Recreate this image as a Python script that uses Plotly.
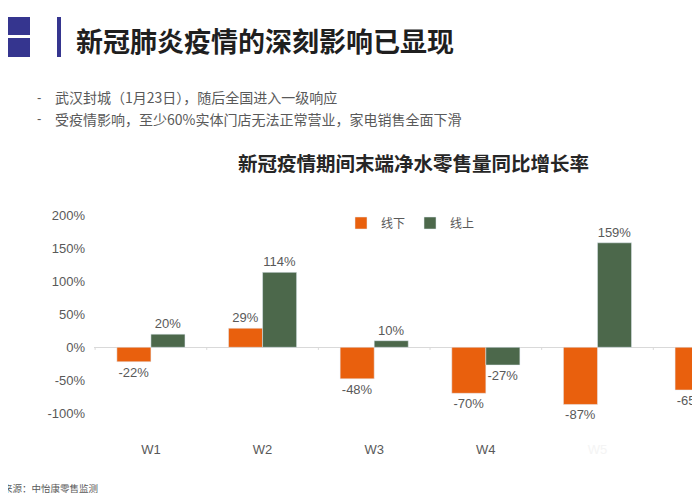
import plotly.graph_objects as go

# ---- data ----
weeks = ["W1", "W2", "W3", "W4", "W5", "W6"]
offline = [-22, 29, -48, -70, -87, -65]   # 线下
online = [20, 114, 10, -27, 159, None]    # 线上
y_ticks = [-100, -50, 0, 50, 100, 150, 200]
y_ticktext = [f"{v}%" for v in y_ticks]
series_names = ["线下", "线上"]
chart_title = "新冠疫情期间末端净水零售量同比增长率"
slide_title = "新冠肺炎疫情的深刻影响已显现"
bullets = ["武汉封城（1月23日），随后全国进入一级响应",
           "受疫情影响，至少60%实体门店无法正常营业，家电销售全面下滑"]
source = "数据来源：中怡康零售监测"

ORANGE = "#E9600D"
GREEN = "#4C684B"
GRAY = "#595959"
FONT = "Liberation Sans, Noto Sans CJK SC, sans-serif"
CJK = "Noto Sans CJK SC, sans-serif"

# the page adds an 8px body margin; work in screen coordinates and shift
OFF = 8
W, H = 700, 500
L, R, T, B = 94 - OFF, 0, 206 - OFF, 64 + OFF
PW, PH = W - L - R, H - T - B

def px(x):
    return (x - OFF - L) / PW

def py(y):
    return (H - B - (y - OFF)) / PH

fig = go.Figure()
fig.add_trace(go.Bar(
    x=weeks, y=offline, name=series_names[0], marker_color=ORANGE,
    text=[f"{v}%" for v in offline], textposition="outside",
    textfont=dict(size=13, color=GRAY, family=FONT), cliponaxis=True,
))
fig.add_trace(go.Bar(
    x=weeks, y=online, name=series_names[1], marker_color=GREEN,
    text=[f"{v}%" if v is not None else "" for v in online], textposition="outside",
    textfont=dict(size=13, color=GRAY, family=FONT), cliponaxis=True,
))

ticktext = [w if w != "W5" else "<span style='color:#f4f4f4'>W5</span>" for w in weeks]

fig.update_layout(
    width=W, height=H,
    margin=dict(l=L, r=R, t=T, b=B),
    paper_bgcolor="white", plot_bgcolor="white",
    barmode="group", bargap=0.39, bargroupgap=0,
    font=dict(family=FONT, color=GRAY, size=13),
    showlegend=True,
    legend=dict(orientation="h", x=px(341), y=py(223), xanchor="left", yanchor="middle",
                font=dict(size=12, color=GRAY, family=CJK), itemwidth=30,
                bgcolor="rgba(0,0,0,0)", traceorder="normal"),
    xaxis=dict(type="category", range=[-0.51, 4.99], showline=False, showgrid=False,
               zeroline=False, ticks="", tickvals=weeks, ticktext=ticktext,
               tickfont=dict(size=13, color=GRAY, family=FONT), ticklabelstandoff=4),
    yaxis=dict(range=[-135, 215], tickmode="array", tickvals=y_ticks, ticktext=y_ticktext,
               showgrid=False, showline=False, zeroline=True, zerolinecolor="#D9D9D9",
               zerolinewidth=1, tickfont=dict(size=13, color=GRAY, family=FONT),
               ticklabelstandoff=8),
)

# small category tick marks hanging below the zero line
for i in range(len(weeks)):
    fig.add_shape(type="line", xref="x", yref="y", x0=i - 0.5, x1=i - 0.5, y0=0, y1=-4,
                  line=dict(color="#D9D9D9", width=1))

# slide header decorations
for (y0, y1) in [(17, 35), (38, 57)]:
    fig.add_shape(type="rect", xref="paper", yref="paper", x0=px(-10), x1=px(30),
                  y0=py(y0), y1=py(y1), fillcolor="#35358F", line_width=0, layer="above")
fig.add_shape(type="rect", xref="paper", yref="paper", x0=px(57), x1=px(61), y0=py(17), y1=py(57),
              fillcolor="#35358F", line_width=0, layer="above")

fig.add_annotation(text=f"<b>{slide_title}</b>", xref="paper", yref="paper",
                   x=px(74), y=py(41), xanchor="left", yanchor="middle", showarrow=False,
                   font=dict(size=27, color="#1F1F1F", family=CJK))
for i, b in enumerate(bullets):
    yy = 97 + 22 * i
    fig.add_annotation(text="-", xref="paper", yref="paper", x=px(35), y=py(yy),
                       xanchor="left", yanchor="middle", showarrow=False,
                       font=dict(size=13, color=GRAY, family=FONT))
    fig.add_annotation(text=b, xref="paper", yref="paper", x=px(53), y=py(yy),
                       xanchor="left", yanchor="middle", showarrow=False,
                       font=dict(size=14, color=GRAY, family=CJK))

fig.add_annotation(text=f"<b>{chart_title}</b>", xref="paper", yref="paper",
                   x=px(413), y=py(162), xanchor="center", yanchor="middle", showarrow=False,
                   font=dict(size=19.5, color="#262626", family=CJK))

fig.add_annotation(text=source, xref="paper", yref="paper", x=px(100), y=py(488),
                   xanchor="right", yanchor="middle", showarrow=False,
                   font=dict(size=9.5, color=GRAY, family=CJK))

fig.write_html("out.html")
